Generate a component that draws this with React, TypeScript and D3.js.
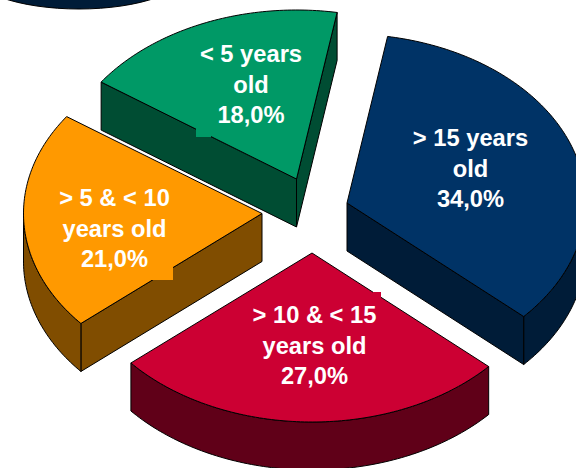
import React from "react";
import * as d3 from "d3";

const categories = ["> 15 years old", "> 10 & < 15 years old", "> 5 & < 10 years old", "< 5 years old"];
const values = [34, 27, 21, 18];
const labelLines = [
  ["> 15 years", "old", "34,0%"],
  ["> 10 & < 15", "years old", "27,0%"],
  ["> 5 & < 10", "years old", "21,0%"],
  ["< 5 years", "old", "18,0%"],
];
const topColors = ["#003366", "#cc0033", "#ff9900", "#009966"];
const sideColors = ["#001c38", "#600018", "#804d00", "#004d33"];

const W = 576, H = 468;
const RX = 238.5, RY = 169, DEPTH = 48;
const START = (9.8 * Math.PI) / 180;
// slice apex after explosion
const apexes = [[347, 203], [312, 253], [262, 213.5], [296.5, 179]];
const labelPos = [[470.5, 146], [314.5, 323], [114.5, 206], [251, 62]];
const labelBox = [null, [373, 292, 8, 6], [148, 262, 25, 18], [196, 125, 15, 12]];
const drawOrder = [3, 0, 2, 1];
const LH = 30.7;

const pieGen = d3.pie<number>().sort(null).startAngle(START).endAngle(START + 2 * Math.PI);
const arcs = pieGen(values);

function outline(a0: number, a1: number) {
  const n = Math.max(2, Math.ceil(((a1 - a0) * 180) / Math.PI));
  const thetas = d3.range(n + 1).map((i) => a0 + ((a1 - a0) * i) / n);
  const pts: [number, number][] = [[0, 0]];
  thetas.forEach((t) => pts.push([RX * Math.sin(t), -RY * Math.cos(t)]));
  pts.push([0, 0]);
  return pts;
}

function visibleRuns(pts: [number, number][]) {
  const runs: [number, number][][] = [];
  let cur: [number, number][] | null = null;
  for (let i = 0; i < pts.length - 1; i++) {
    const a = pts[i], b = pts[i + 1];
    const vis = b[0] - a[0] < 0;
    const corner = i === 0 || i === pts.length - 2 || i === 1;
    if (vis) {
      if (!cur || corner) {
        if (cur) runs.push(cur);
        cur = [a];
      }
      cur.push(b);
    } else if (cur) {
      runs.push(cur);
      cur = null;
    }
  }
  if (cur) runs.push(cur);
  return runs;
}

const line = d3.line();

function Slice({ i }: { i: number }) {
  const d = arcs[i];
  const [ax, ay] = apexes[i];
  const top = line(outline(d.startAngle, d.endAngle))!;
  const runs = visibleRuns(outline(d.startAngle, d.endAngle));
  const box = labelBox[i];
  return (
    <g>
      <g transform={`translate(${ax},${ay})`}>
        {runs.map((r, k) => {
          const poly = [...r, ...[...r].reverse().map(([x, y]) => [x, y + DEPTH] as [number, number])];
          return <path key={k} d={line(poly)! + "Z"} fill={sideColors[i]} stroke="#000" strokeWidth={1} strokeLinejoin="round" />;
        })}
        <path d={top + "Z"} fill={topColors[i]} stroke="#000" strokeWidth={1} strokeLinejoin="round" />
      </g>
      {box && <rect x={box[0]} y={box[1]} width={box[2]} height={box[3]} fill={topColors[i]} />}
    </g>
  );
}

export default function App() {
  return (
    <svg width={W} height={H} viewBox={`0 0 ${W} ${H}`} style={{ position: "fixed", left: 0, top: 0, background: "#fff" }}>
      <ellipse cx={79} cy={-30} rx={110} ry={39} fill="#001c38" stroke="#000" strokeWidth={1} />
      {drawOrder.map((i) => <Slice key={categories[i]} i={i} />)}
      {drawOrder.map((i) => (
        <text key={categories[i]} x={labelPos[i][0]} y={labelPos[i][1]} textAnchor="middle"
          fontFamily="'Liberation Sans', Arial, sans-serif" fontWeight="bold" fontSize={23.7} fill="#fff">
          {labelLines[i].map((t, k) => (
            <tspan key={k} x={labelPos[i][0]} y={labelPos[i][1] + k * LH}>{t}</tspan>
          ))}
        </text>
      ))}
    </svg>
  );
}
